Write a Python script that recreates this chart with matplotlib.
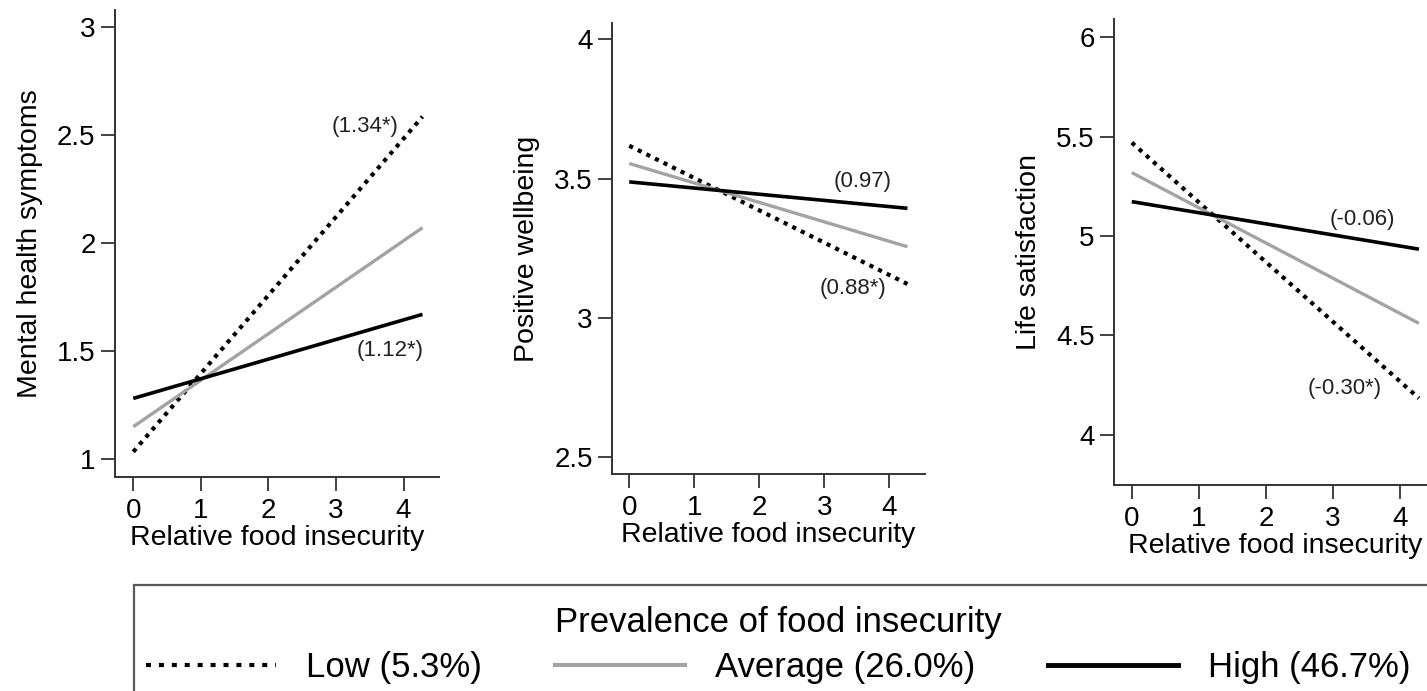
import matplotlib
matplotlib.use("Agg")
import matplotlib.pyplot as plt
from matplotlib.lines import Line2D
from matplotlib.patches import Rectangle

plt.rcParams['font.family'] = ['Liberation Sans', 'DejaVu Sans']

# relative food insecurity range of the fitted lines
x_range = [0, 4.28]

# panel 1: mental health symptoms
mh_low = [1.035, 2.586]
mh_avg = [1.151, 2.072]
mh_high = [1.282, 1.671]

# panel 2: positive wellbeing
pw_low = [3.618, 3.121]
pw_avg = [3.554, 3.255]
pw_high = [3.488, 3.393]

# panel 3: life satisfaction
ls_low = [5.47, 4.184]
ls_avg = [5.319, 4.561]
ls_high = [5.173, 4.934]

ylabels = ["Mental health symptoms", "Positive wellbeing", "Life satisfaction"]
yticks = [[1, 1.5, 2, 2.5, 3], [2.5, 3, 3.5, 4], [4, 4.5, 5, 5.5, 6]]
yticklabels = [["1", "1.5", "2", "2.5", "3"], ["2.5", "3", "3.5", "4"],
               ["4", "4.5", "5", "5.5", "6"]]
ylims = [(0.917, 3.08), (2.438, 4.06), (3.748, 6.09)]
xlims = [(-0.27, 4.53), (-0.26, 4.55), (-0.264, 4.53)]

# coefficient labels: (text, x, y)
notes = [
    [("(1.34*)", 3.93, 2.54), ("(1.12*)", 4.3, 1.506)],
    [("(0.97)", 4.03, 3.488), ("(0.88*)", 3.95, 3.105)],
    [("(-0.06)", 3.93, 5.081), ("(-0.30*)", 3.72, 4.234)],
]

series = [(mh_low, mh_avg, mh_high), (pw_low, pw_avg, pw_high), (ls_low, ls_avg, ls_high)]

legend_labels = ["Low (5.3%)", "Average (26.0%)", "High (46.7%)"]
gray = "#a3a3a3"
spine_col = "#333333"

fig = plt.figure(figsize=(14.27, 6.91), dpi=100)

positions = [
    [0.0806, 0.3093, 0.2273, 0.6763],
    [0.4291, 0.3140, 0.2191, 0.6531],
    [0.7807, 0.2981, 0.2254, 0.6740],
]

for i, pos in enumerate(positions):
    ax = fig.add_axes(pos)
    low, avg, high = series[i]
    ax.plot(x_range, low, color="black", lw=3, linestyle=(0, (1, 1.3)))
    ax.plot(x_range, avg, color=gray, lw=2.4, solid_capstyle="butt")
    ax.plot(x_range, high, color="black", lw=2.6, solid_capstyle="butt")
    for txt, tx, ty in notes[i]:
        ax.text(tx, ty, txt, ha="right", va="center", fontsize=16, color="#222222")
    ax.set_xlim(*xlims[i])
    ax.set_ylim(*ylims[i])
    ax.set_xticks([0, 1, 2, 3, 4])
    ax.set_yticks(yticks[i])
    ax.set_yticklabels(yticklabels[i])
    ax.spines["top"].set_visible(False)
    ax.spines["right"].set_visible(False)
    for s in ["left", "bottom"]:
        ax.spines[s].set_color(spine_col)
        ax.spines[s].set_linewidth(1.4)
    ax.tick_params(axis="both", direction="out", length=10, width=1.3,
                   color=spine_col, labelsize=20)
    ax.tick_params(axis="y", pad=4)
    ax.tick_params(axis="x", pad=5)
    ax.set_xlabel("Relative food insecurity", fontsize=20.5, labelpad=1)
    ax.set_ylabel(ylabels[i], fontsize=20.5, labelpad=10)

# legend frame (runs off the right and bottom edges)
fig.patches.append(Rectangle((134 / 1427, -0.2), 1.0, (691 - 585) / 691 + 0.2,
                             transform=fig.transFigure, fill=False,
                             edgecolor="#5a5a5a", linewidth=1.6))

handles = [
    Line2D([], [], color="black", lw=3, linestyle=(0, (1.2, 1.9))),
    Line2D([], [], color=gray, lw=3),
    Line2D([], [], color="black", lw=3.5),
]
leg = fig.legend(handles, legend_labels, ncol=3, frameon=False,
                 title="Prevalence of food insecurity",
                 loc="center", bbox_to_anchor=(778 / 1427, (691 - 645) / 691),
                 fontsize=25, title_fontsize=25, handlelength=3.75,
                 handletextpad=0.86, columnspacing=2.1, labelspacing=0.2,
                 borderpad=0, borderaxespad=0)
leg._legend_box.sep = 9

fig.savefig("out.png", dpi=100)
